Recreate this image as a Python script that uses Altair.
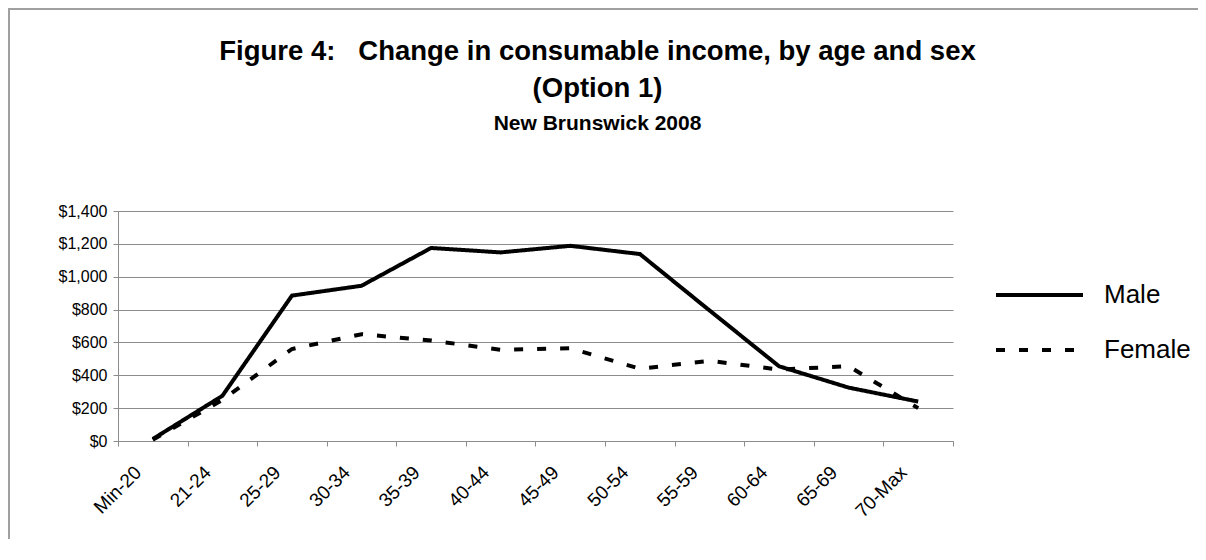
import altair as alt
import pandas as pd

ages = ["Min-20", "21-24", "25-29", "30-34", "35-39", "40-44",
        "45-49", "50-54", "55-59", "60-64", "65-69", "70-Max"]
male = [12, 275, 885, 945, 1175, 1148, 1188, 1138, 795, 455, 325, 240]
female = [8, 250, 560, 650, 612, 555, 565, 440, 488, 435, 455, 200]
series = ["Male", "Female"]
y_ticks = [0, 200, 400, 600, 800, 1000, 1200, 1400]

df = pd.DataFrame({
    "age": ages * 2,
    "value": male + female,
    "sex": [series[0]] * len(ages) + [series[1]] * len(ages),
})

FONT = "Liberation Sans"
GRID = "#8c8c8c"
FRAME = "#a0a0a0"

x = alt.X(
    "age:N", sort=ages,
    scale=alt.Scale(type="band", domain=ages, paddingInner=0, paddingOuter=0),
    bandPosition=0.5,
    axis=alt.Axis(title=None, tickBand="extent", labelAngle=-45, labelAlign="right",
                  labelBaseline="middle", labelOffset=-15, labelPadding=23,
                  labelFontSize=19, labelFont=FONT, labelColor="black",
                  domainColor=GRID, tickColor=GRID, tickSize=5, grid=False),
)
y = alt.Y(
    "value:Q",
    scale=alt.Scale(domain=[0, 1400], nice=False),
    axis=alt.Axis(title=None, values=y_ticks, format="$,.0f", labelFontSize=16,
                  labelFont=FONT, labelColor="black", domainColor=GRID,
                  tickColor=GRID, tickSize=5, labelPadding=6, grid=True,
                  gridColor=GRID, gridWidth=1),
)
dash = alt.StrokeDash(
    "sex:N",
    scale=alt.Scale(domain=series, range=[[1, 0], [9, 14]]),
    legend=alt.Legend(title=None, orient="none", legendX=876, legendY=70,
                      symbolType="stroke", symbolSize=7569, symbolStrokeWidth=4,
                      symbolStrokeColor="black", labelFontSize=26, labelFont=FONT,
                      labelColor="black", labelOffset=19, clipHeight=28,
                      rowPadding=27, padding=0),
)

base = alt.Chart(df)
female_line = base.mark_line(color="black", strokeWidth=4).encode(
    x=x, y=y, strokeDash=dash).transform_filter(alt.datum.sex == "Female")
male_line = base.mark_line(color="black", strokeWidth=4).encode(
    x=x, y=y, strokeDash=dash).transform_filter(alt.datum.sex == "Male")

frame_df = pd.DataFrame({"k": [0]})
frame_left = alt.Chart(frame_df).mark_rule(color=FRAME, strokeWidth=2).encode(
    x=alt.value(-109), y=alt.value(-202), y2=alt.value(328))
frame_top = alt.Chart(frame_df).mark_rule(color=FRAME, strokeWidth=2).encode(
    x=alt.value(-110), x2=alt.value(1080), y=alt.value(-202))

chart = alt.layer(frame_left, frame_top, female_line, male_line).properties(
    width=835, height=230,
    autosize=alt.AutoSizeParams(type="none"),
    padding={"left": 110, "top": 203, "right": 245, "bottom": 100},
    title=alt.TitleParams(
        text=["Figure 4:\u00a0\u00a0\u00a0Change in consumable income, by age and sex",
              "(Option 1)"],
        subtitle="New Brunswick 2008",
        font=FONT, fontSize=27.5, fontWeight="bold", color="black",
        anchor="middle", dx=62, dy=126, lineHeight=37, offset=0,
        subtitleFont=FONT, subtitleFontSize=21, subtitleFontWeight="bold",
        subtitleColor="black", subtitlePadding=11,
    ),
).configure_view(stroke=None)

chart.save("out.html", embed_options={"renderer": "svg", "actions": False})
